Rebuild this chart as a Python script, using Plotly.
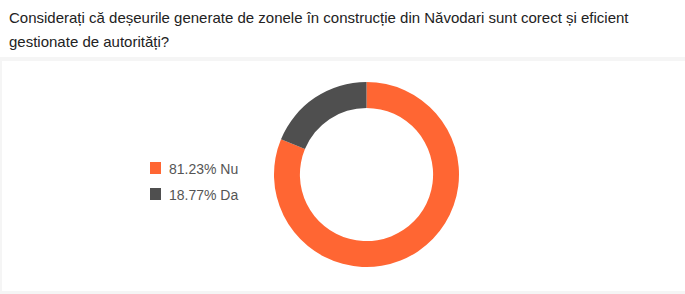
import plotly.graph_objects as go

categories = ["Nu", "Da"]
percentages = [81.23, 18.77]
colors = ["#FF6633", "#4F4F4F"]
title_lines = ["Considerați că deșeurile generate de zonele în construcție din Năvodari sunt corect și eficient",
               "gestionate de autorități?"]

W, H = 685, 294
labels = [f"{p:.2f}% {c}" for p, c in zip(percentages, categories)]

fig = go.Figure(go.Pie(
    labels=labels,
    values=percentages,
    hole=0.72,
    sort=False,
    direction="clockwise",
    rotation=0,
    marker=dict(colors=colors, line=dict(width=0)),
    textinfo="none",
    hoverinfo="label",
    showlegend=False,
    domain=dict(x=[274/W, 459/W], y=[1-267/H, 1-82/H]),
))

shapes = [
    dict(type="rect", xref="paper", yref="paper", x0=0, x1=1, y0=1-61/H, y1=1-57/H,
         fillcolor="#F5F5F5", line=dict(width=0), layer="below"),
    dict(type="rect", xref="paper", yref="paper", x0=0, x1=1, y0=0, y1=3/H,
         fillcolor="#F5F5F5", line=dict(width=0), layer="below"),
    dict(type="rect", xref="paper", yref="paper", x0=0, x1=2/W, y0=0, y1=1-57/H,
         fillcolor="#F5F5F5", line=dict(width=0), layer="below"),
]

annotations = []
for i, line in enumerate(title_lines):
    annotations.append(dict(text=line, xref="paper", yref="paper", x=7/W, y=1-(18+24*i)/H,
                            xanchor="left", yanchor="middle", align="left", showarrow=False,
                            font=dict(family="Liberation Sans, Arial", size=15, color="#222222")))

# legend drawn manually (square + label per slice)
for i, (lab, col) in enumerate(zip(labels, colors)):
    cy = 168 + 26 * i
    shapes.append(dict(type="rect", xref="paper", yref="paper",
                       x0=150/W, x1=161/W, y0=1-(cy+6)/H, y1=1-(cy-6)/H,
                       fillcolor=col, line=dict(width=0)))
    annotations.append(dict(text=lab, xref="paper", yref="paper", x=167/W, y=1-(cy+1)/H,
                            xanchor="left", yanchor="middle", showarrow=False,
                            font=dict(family="Liberation Sans, Arial", size=14, color="#555555")))

fig.update_layout(
    width=W, height=H,
    margin=dict(l=0, r=0, t=0, b=0),
    paper_bgcolor="white", plot_bgcolor="white",
    shapes=shapes, annotations=annotations,
)

fig.write_html("out.html", config={"displayModeBar": False})
